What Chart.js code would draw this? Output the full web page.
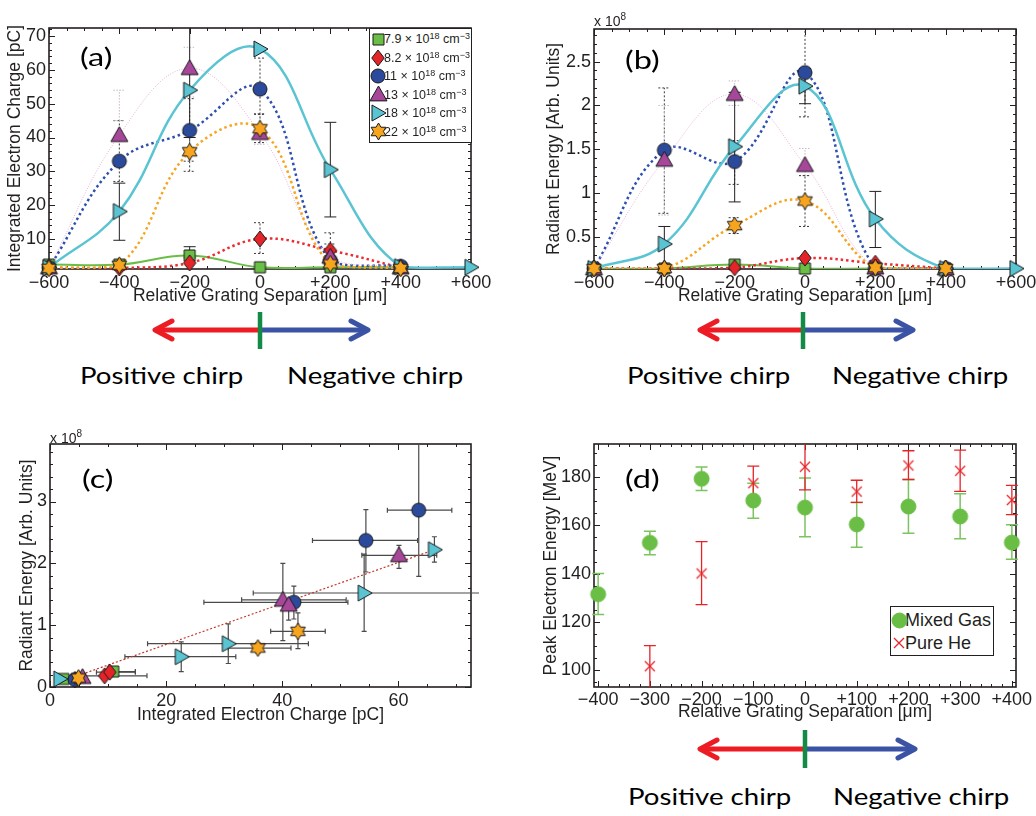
<!DOCTYPE html>
<html>
<head>
<meta charset="utf-8">
<title>Grating separation scans</title>
<script src="https://cdn.jsdelivr.net/npm/chart.js@4.4.1/dist/chart.umd.min.js"></script>
<style>
  body { margin: 0; background: #fff; }
  #page { position: relative; width: 1036px; height: 816px; overflow: hidden; background: #fff;
          font-family: "Liberation Sans", Arial, sans-serif; color: #231f20; }
  #page canvas.chart { position: absolute; }
  .panel-label { position: absolute; font-family: Lato, "Open Sans", sans-serif; font-weight: 400; font-size: 25px; line-height: 1;
                 transform: scaleX(1.3); transform-origin: 0 0; color: #000; }
  .chirp { position: absolute; font-family: Lato, "Open Sans", sans-serif; font-weight: 400; font-size: 24px; line-height: 1;
           white-space: nowrap; transform: scaleX(1.15); transform-origin: 0 0; color: #000; }
  .mult { position: absolute; font-size: 14px; line-height: 1; white-space: nowrap; }
  .mult sup { font-size: 10px; line-height: 0; vertical-align: 6px; }
  .legend { position: absolute; border: 1px solid #231f20; background: #fff; box-sizing: border-box; }
  .legend .row { position: absolute; left: 0; right: 0; }
  .legend .row canvas { position: absolute; }
  .legend .row span { position: absolute; white-space: nowrap; }
  .legend sup { font-size: 9px; line-height: 0; vertical-align: 4px; }
  #arrows { position: absolute; left: 0; top: 0; pointer-events: none; }
</style>
</head>
<body>
<div id="page">
  <canvas class="chart" id="chartA" width="520" height="310" style="left:0;top:0"></canvas>
  <canvas class="chart" id="chartB" width="520" height="310" style="left:520px;top:0"></canvas>
  <canvas class="chart" id="chartC" width="520" height="310" style="left:0;top:420px"></canvas>
  <canvas class="chart" id="chartD" width="520" height="310" style="left:520px;top:420px"></canvas>

  <div class="panel-label" style="left:80px;top:44px">(a)</div>
  <div class="panel-label" style="left:625px;top:47px">(b)</div>
  <div class="panel-label" style="left:82px;top:466px">(c)</div>
  <div class="panel-label" style="left:625px;top:466px">(d)</div>

  <div class="mult" style="left:594px;top:14px">x 10<sup>8</sup></div>
  <div class="mult" style="left:50px;top:431px">x 10<sup>8</sup></div>

  <div class="legend" id="legendA" style="left:369px;top:28px;width:103px;height:115px"></div>
  <div class="legend" id="legendD" style="left:890px;top:606px;width:104px;height:50px"></div>

  <div class="chirp" style="left:80px;top:363px">Positive chirp</div>
  <div class="chirp" style="left:287px;top:363px">Negative chirp</div>
  <div class="chirp" style="left:627px;top:363px">Positive chirp</div>
  <div class="chirp" style="left:832px;top:363px">Negative chirp</div>
  <div class="chirp" style="left:628px;top:784px">Positive chirp</div>
  <div class="chirp" style="left:833px;top:784px">Negative chirp</div>

  <svg id="arrows" width="1036" height="816"></svg>
</div>

<script>
// ---------- data ----------
const gratingSep = [-600, -400, -200, 0, 200, 400];
const gratingSepCyan = [-600, -400, -200, 0, 200, 400, 600];
const densities = ['7.9', '8.2', '11', '13', '18', '22'];

// (a) integrated electron charge [pC]
const chargeGreen   = [2.4, 2.4, 5.1, 1.6, 1.6, 1.6];
const chargeRed     = [1.5, 1.4, 2.9, 10.0, 6.6, 1.5];
const chargeBlue    = [1.5, 33.0, 42.1, 54.3, 3.6, 1.9];
const chargeMagenta = [1.5, 40.7, 60.5, 41.3, 4.7, 1.5];
const chargeCyan    = [1.5, 18.1, 54.0, 66.2, 30.5, 1.8, 1.6];
const chargeOrange  = [1.3, 2.2, 35.8, 42.6, 2.6, 1.3];

const chargeGreenErr   = [null, null, [4.4, 7.7], null, null, null];
const chargeRedErr     = [null, null, null, [5.7, 14.8], [5.0, 8.5], null];
const chargeBlueErr    = [null, [27, 45], [33, 51.5], [46.8, 63.5], [0.5, 11.8], null];
const chargeMagentaErr = [null, [45, 54], [52, 66.7], [38, 47], null, null];
const chargeCyanErr    = [null, [9.6, 26.5], [40, 80], null, [16.5, 44.5], null, null];
const chargeOrangeErr  = [null, null, [30, 42], [38.5, 47], null, null];

// (b) radiant energy [x 1e8 arb. units]
const energyGreen   = [0.14, 0.14, 0.185, 0.14, 0.14, 0.14];
const energyRed     = [0.14, 0.14, 0.15, 0.26, 0.20, 0.14];
const energyBlue    = [0.14, 1.49, 1.36, 2.375, 0.14, 0.14];
const energyMagenta = [0.14, 1.38, 2.13, 1.32, 0.15, 0.14];
const energyCyan    = [0.14, 0.42, 1.53, 2.22, 0.705, 0.14, 0.14];
const energyOrange  = [0.14, 0.14, 0.63, 0.91, 0.15, 0.14];

const energyGreenErr   = [null, null, null, null, null, null];
const energyRedErr     = [null, null, null, null, null, null];
const energyBlueErr    = [null, [0.77, 2.2], [1.1, 1.6], [1.87, 3.0], null, null];
const energyMagentaErr = [null, [0.75, 2.0], [2.0, 2.28], [1.2, 1.51], null, null];
const energyCyanErr    = [null, [0.14, 0.62], [0.9, 2.15], [2.02, 2.42], [0.38, 1.02], null, null];
const energyOrangeErr  = [null, null, [0.54, 0.72], [0.62, 1.2], null, null];

// (c) radiant energy vs charge
const scatGreenX = [2.3, 10.9];         const scatGreenY = [0.13, 0.25];
const scatGreenXErr = [null, [9.5, 14.7]];
const scatGreenYErr = [null, null];
const scatRedX = [4.3, 9.4, 10.3];      const scatRedY = [0.12, 0.18, 0.24];
const scatRedXErr = [null, [6.0, 16.7], [8.0, 14.7]];
const scatRedYErr = [null, null, null];
const scatBlueX = [4.3, 42.0, 54.4, 63.5]; const scatBlueY = [0.12, 1.37, 2.37, 2.86];
const scatBlueXErr = [null, [26.5, 51.3], [45.2, 63.3], [58.1, 69.2]];
const scatBlueYErr = [null, [1.1, 1.63], [1.86, 2.87], [1.79, 4.2]];
const scatMagentaX = [5.6, 40.1, 41.1, 60.1]; const scatMagentaY = [0.16, 1.41, 1.33, 2.13];
const scatMagentaXErr = [null, [33.0, 51.0], null, [53.7, 66.6]];
const scatMagentaYErr = [null, [0.75, 2.0], [1.08, 1.33], [1.92, 2.29]];
const scatCyanX = [1.7, 22.6, 30.7, 54.1, 66.2]; const scatCyanY = [0.13, 0.49, 0.70, 1.52, 2.22];
const scatCyanXErr = [null, [12.9, 32.0], [16.8, 44.5], [35.0, 80.0], null];
const scatCyanYErr = [null, [0.25, 0.73], [0.38, 1.02], [0.9, 2.15], [2.02, 2.43]];
const scatOrangeX = [4.9, 35.8, 42.7];  const scatOrangeY = [0.145, 0.63, 0.90];
const scatOrangeXErr = [null, [30.7, 41.5], [38.0, 47.4]];
const scatOrangeYErr = [null, [0.55, 0.72], [0.62, 1.2]];
const fitCharge = [2.9, 66.2];
const fitEnergy = [0.12, 2.22];

// (d) peak electron energy [MeV]
const sepD = [-400, -300, -200, -100, 0, 100, 200, 300, 400];
const mixedGas = [131.5, 152.8, 179.3, 170.3, 167.4, 160.4, 167.8, 163.7, 152.9];
const mixedGasErr = [[123.1, 140.1], [147.8, 157.6], [174.5, 184.2], [163.0, 177.5], [155.3, 179.6],
                     [151.0, 169.5], [156.7, 179.0], [154.5, 173.1], [146.0, 160.3]];
const pureHeSep = [-300, -200, -100, 0, 100, 200, 300, 400];
const pureHe = [101.7, 140.1, 177.5, 184.3, 174.0, 184.8, 182.6, 170.5];
const pureHeErr = [[90, 110.2], [127.2, 153.3], [170.5, 184.5], [174.7, 196], [169.5, 178.7],
                   [179.0, 190.9], [174.1, 191.2], [164.5, 176.6]];

// tick labels
const sepTicks = [-600, -400, -200, 0, 200, 400, 600];
const chargeTicks = [10, 20, 30, 40, 50, 60, 70];
const energyTicks = [0.5, 1, 1.5, 2, 2.5];
const scatChargeTicks = [0, 20, 40, 60];
const scatEnergyTicks = [0, 1, 2, 3];
const sepTicksD = [-400, -300, -200, -100, 0, 100, 200, 300, 400];
const peakTicks = [100, 120, 140, 160, 180];

// ---------- styles ----------
const ink = '#231f20';
const tickFont = {family: "'Liberation Sans', Arial, sans-serif", size: 18};
const titleFont = {family: "'Liberation Sans', Arial, sans-serif", size: 17.5};
const seriesShape = ['square', 'diamond', 'circle', 'triUp', 'triRight', 'hexagram'];
const seriesSize = [11, 16, 14, 17, 16, 17];
const seriesFill = ['#6abd45', '#e52429', '#2c4a9c', '#a6479a', '#5ac4d2', '#f7a51f'];
const seriesLine = ['#6abd45', '#ee2b30', '#2c4fb0', '#e6b0da', '#5ac4d2', '#f7a51f'];
const seriesDash = [[], [2.5, 3], [2.5, 3], [1, 1.5], [], [2.5, 3]];
const seriesWidth = [2, 2.5, 2.5, 1, 2.5, 2.5];
const errInk = [ink, '#3a3a3a', '#3a3a3a', '#c9b6c5', ink, '#3a3a3a'];
const errDash = [[], [2, 2], [2, 2], [1.5, 1.5], [], [2, 2]];

function makeMarker(shape, fill, stroke, size) {
  const s = Math.ceil(size) + 4;
  const c = document.createElement('canvas');
  c.width = s; c.height = s;
  const g = c.getContext('2d');
  const m = s / 2, r = size / 2;
  g.beginPath();
  if (shape === 'circle') g.arc(m, m, r, 0, 2 * Math.PI);
  else if (shape === 'square') g.rect(m - r, m - r, size, size);
  else if (shape === 'diamond') { g.moveTo(m, m - r); g.lineTo(m + r * 0.78, m); g.lineTo(m, m + r); g.lineTo(m - r * 0.78, m); g.closePath(); }
  else if (shape === 'triUp') { g.moveTo(m, m - r); g.lineTo(m + r, m + r * 0.75); g.lineTo(m - r, m + r * 0.75); g.closePath(); }
  else if (shape === 'triRight') { g.moveTo(m + r, m); g.lineTo(m - r * 0.75, m - r); g.lineTo(m - r * 0.75, m + r); g.closePath(); }
  else if (shape === 'hexagram') {
    for (let k = 0; k < 12; k++) {
      const ang = -Math.PI / 2 + k * Math.PI / 6;
      const rr = k % 2 ? r * 0.58 : r;
      const px = m + rr * Math.cos(ang), py = m + rr * Math.sin(ang);
      if (k) g.lineTo(px, py); else g.moveTo(px, py);
    }
    g.closePath();
  } else if (shape === 'cross') {
    g.moveTo(m - r, m - r); g.lineTo(m + r, m + r); g.moveTo(m + r, m - r); g.lineTo(m - r, m + r);
  }
  if (shape === 'cross') { g.strokeStyle = stroke; g.lineWidth = 1.3; g.stroke(); }
  else { g.fillStyle = fill; g.fill(); g.strokeStyle = stroke; g.lineWidth = 1; g.stroke(); }
  return c;
}

const markers = seriesShape.map((sh, k) => makeMarker(sh, seriesFill[k], '#1a1a1a', seriesSize[k]));
const mixedMarker = makeMarker('circle', '#6abd45', '#6abd45', 15);
const heMarker = makeMarker('cross', null, '#e52429', 10);

function fmtSigned(v) { return v > 0 ? '+' + v : (v < 0 ? '\u2212' + Math.abs(v) : '0'); }
function fmtPlain(v) { return String(v); }
function fixedTicks(list) { return scale => { scale.ticks = list.map(v => ({value: v})); }; }

// box + inward MATLAB-style ticks
const framePlugin = {
  id: 'frame',
  beforeDatasetsDraw(chart, args, opts) {
    const {ctx, chartArea: a} = chart;
    const sx = chart.scales.x, sy = chart.scales.y;
    ctx.save();
    ctx.strokeStyle = ink;
    ctx.lineWidth = 1;
    ctx.beginPath();
    const xTick = (v, len) => {
      const p = Math.round(sx.getPixelForValue(v)) + 0.5;
      ctx.moveTo(p, a.bottom); ctx.lineTo(p, a.bottom - len);
      ctx.moveTo(p, a.top); ctx.lineTo(p, a.top + len);
    };
    const yTick = (v, len) => {
      const p = Math.round(sy.getPixelForValue(v)) + 0.5;
      ctx.moveTo(a.left, p); ctx.lineTo(a.left + len, p);
      ctx.moveTo(a.right, p); ctx.lineTo(a.right - len, p);
    };
    const minor = (scale, step, fn) => {
      const start = Math.ceil(scale.min / step - 1e-9);
      for (let i = start; i * step <= scale.max + 1e-9; i++) fn(i * step, 3);
    };
    minor(sx, opts.minorX, xTick);
    minor(sy, opts.minorY, yTick);
    sx.ticks.forEach(t => xTick(t.value, 6));
    sy.ticks.forEach(t => yTick(t.value, 6));
    ctx.stroke();
    ctx.lineWidth = 1.6;
    ctx.strokeRect(a.left, a.top, a.right - a.left, a.bottom - a.top);
    ctx.restore();
  }
};

const errorBarPlugin = {
  id: 'errorBars',
  beforeDatasetsDraw(chart) {
    const {ctx, chartArea: a} = chart;
    const sx = chart.scales.x, sy = chart.scales.y;
    ctx.save();
    ctx.beginPath();
    ctx.rect(a.left - 8, a.top, a.right - a.left + 16, a.bottom - a.top);
    ctx.clip();
    chart.data.datasets.forEach(ds => {
      if (!ds.errY && !ds.errX) return;
      ctx.strokeStyle = ds.errColor;
      ctx.lineWidth = ds.errWidth || 1;
      ctx.setLineDash(ds.errDash || []);
      const cap = ds.errCap || 5;
      ds.data.forEach((p, i) => {
        const px = sx.getPixelForValue(p.x), py = sy.getPixelForValue(p.y);
        ctx.beginPath();
        const ey = ds.errY && ds.errY[i];
        if (ey) {
          const t = sy.getPixelForValue(ey[1]), b = sy.getPixelForValue(ey[0]);
          ctx.moveTo(px, b); ctx.lineTo(px, t);
          ctx.moveTo(px - cap, t); ctx.lineTo(px + cap, t);
          ctx.moveTo(px - cap, b); ctx.lineTo(px + cap, b);
        }
        const ex = ds.errX && ds.errX[i];
        if (ex) {
          const l = sx.getPixelForValue(ex[0]), r = sx.getPixelForValue(ex[1]);
          ctx.moveTo(l, py); ctx.lineTo(r, py);
          ctx.moveTo(l, py - cap); ctx.lineTo(l, py + cap);
          ctx.moveTo(r, py - cap); ctx.lineTo(r, py + cap);
        }
        ctx.stroke();
      });
    });
    ctx.restore();
  }
};

function buildChart(id, datasets, c) {
  return new Chart(document.getElementById(id), {
    type: 'scatter',
    data: {datasets},
    options: {
      responsive: false,
      animation: false,
      devicePixelRatio: 1,
      events: [],
      layout: {padding: c.pad},
      plugins: {legend: {display: false}, tooltip: {enabled: false}, frame: {minorX: c.minorX, minorY: c.minorY}},
      scales: {
        x: {
          type: 'linear', min: c.xMin, max: c.xMax,
          afterBuildTicks: fixedTicks(c.xTicks),
          afterFit: s => { s.height = c.xH; },
          grid: {display: false, drawTicks: false}, border: {display: false},
          ticks: {callback: c.xFmt, font: tickFont, color: ink, padding: c.xTickPad, maxRotation: 0, autoSkip: false},
          title: {display: true, text: c.xTitle, font: titleFont, color: ink, padding: 0}
        },
        y: {
          type: 'linear', min: c.yMin, max: c.yMax,
          afterBuildTicks: fixedTicks(c.yTicks),
          afterFit: s => { s.width = c.yW; },
          grid: {display: false, drawTicks: false}, border: {display: false},
          ticks: {callback: fmtPlain, font: tickFont, color: ink, padding: 3, autoSkip: false},
          title: {display: true, text: c.yTitle, font: titleFont, color: ink, padding: {top: c.yTitlePad, bottom: 0}}
        }
      }
    },
    plugins: [framePlugin, errorBarPlugin]
  });
}

function gratingDatasets(xLists, yLists, errLists) {
  const out = [];
  yLists.forEach((ys, k) => {
    const pts = xLists[k].map((x, i) => ({x, y: ys[i]}));
    out.push({data: pts, order: 5 - k, showLine: false, pointStyle: markers[k], pointRadius: 8, clip: false,
              errY: errLists[k], errColor: errInk[k], errDash: errDash[k], errCap: 6});
    out.push({data: pts, order: 20 - k, showLine: true, tension: 0.4, pointRadius: 0,
              borderColor: seriesLine[k], borderWidth: seriesWidth[k], borderDash: seriesDash[k]});
  });
  return out;
}

const sepLists = [gratingSep, gratingSep, gratingSep, gratingSep, gratingSepCyan, gratingSep];

buildChart('chartA', gratingDatasets(sepLists,
  [chargeGreen, chargeRed, chargeBlue, chargeMagenta, chargeCyan, chargeOrange],
  [chargeGreenErr, chargeRedErr, chargeBlueErr, chargeMagentaErr, chargeCyanErr, chargeOrangeErr]), {
  pad: {left: 0, top: 28, right: 49, bottom: 3}, xH: 38, yW: 49, yTitlePad: 5, xTickPad: 3,
  xMin: -600, xMax: 600, yMin: 1.1, yMax: 72.4, xTicks: sepTicks, yTicks: chargeTicks, xFmt: fmtSigned,
  minorX: 50, minorY: 2,
  xTitle: 'Relative Grating Separation [\u03bcm]', yTitle: 'Integrated Electron Charge [pC]'
});

buildChart('chartB', gratingDatasets(sepLists,
  [energyGreen, energyRed, energyBlue, energyMagenta, energyCyan, energyOrange],
  [energyGreenErr, energyRedErr, energyBlueErr, energyMagentaErr, energyCyanErr, energyOrangeErr]), {
  pad: {left: 0, top: 29, right: 24, bottom: 3}, xH: 38, yW: 74, yTitlePad: 24, xTickPad: 3,
  xMin: -600, xMax: 600, yMin: 0.135, yMax: 2.872, xTicks: sepTicks, yTicks: energyTicks, xFmt: fmtSigned,
  minorX: 50, minorY: 0.1,
  xTitle: 'Relative Grating Separation [\u03bcm]', yTitle: 'Radiant Energy [Arb. Units]'
});

const scatX = [scatGreenX, scatRedX, scatBlueX, scatMagentaX, scatCyanX, scatOrangeX];
const scatY = [scatGreenY, scatRedY, scatBlueY, scatMagentaY, scatCyanY, scatOrangeY];
const scatXErr = [scatGreenXErr, scatRedXErr, scatBlueXErr, scatMagentaXErr, scatCyanXErr, scatOrangeXErr];
const scatYErr = [scatGreenYErr, scatRedYErr, scatBlueYErr, scatMagentaYErr, scatCyanYErr, scatOrangeYErr];
const scatterSets = scatX.map((xs, k) => ({
  data: xs.map((x, i) => ({x, y: scatY[k][i]})), order: 5 - k, showLine: false,
  pointStyle: markers[k], pointRadius: 8, clip: false,
  errX: scatXErr[k], errY: scatYErr[k], errColor: '#4a4a4a', errWidth: 1.2, errCap: 2.5
}));
scatterSets.push({
  data: fitCharge.map((x, i) => ({x, y: fitEnergy[i]})), order: 10, showLine: true, tension: 0, pointRadius: 0,
  borderColor: '#c0392b', borderWidth: 1.2, borderDash: [2, 2]
});

buildChart('chartC', scatterSets, {
  pad: {left: 0, top: 24, right: 49, bottom: 4}, xH: 39, yW: 50, yTitlePad: 17, xTickPad: 3,
  xMin: 0, xMax: 72.5, yMin: 0, yMax: 3.93, xTicks: scatChargeTicks, yTicks: scatEnergyTicks, xFmt: fmtPlain,
  minorX: 5, minorY: 0.2,
  xTitle: 'Integrated Electron Charge [pC]', yTitle: 'Radiant Energy [Arb. Units]'
});

buildChart('chartD', [
  {data: sepD.map((x, i) => ({x, y: mixedGas[i]})), order: 1, showLine: false, pointStyle: mixedMarker,
   pointRadius: 8, clip: false, errY: mixedGasErr, errColor: '#7cc460', errWidth: 1.5, errCap: 6},
  {data: pureHeSep.map((x, i) => ({x, y: pureHe[i]})), order: 0, showLine: false, pointStyle: heMarker,
   pointRadius: 8, clip: false, errY: pureHeErr, errColor: '#e52429', errWidth: 1.3, errCap: 6}
], {
  pad: {left: 0, top: 24, right: 24, bottom: 7}, xH: 36, yW: 74, yTitlePad: 21, xTickPad: 2,
  xMin: -408, xMax: 408, yMin: 93.1, yMax: 193.7, xTicks: sepTicksD, yTicks: peakTicks, xFmt: fmtSigned,
  minorX: 20, minorY: 5,
  xTitle: 'Relative Grating Separation [\u03bcm]', yTitle: 'Peak Electron Energy [MeV]'
});

// ---------- legends ----------
function legendRow(box, marker, markerX, centerY, textX, html, fontSize) {
  const row = document.createElement('div');
  row.className = 'row';
  row.style.top = (centerY - 10) + 'px';
  row.style.height = '20px';
  const mc = document.createElement('canvas');
  mc.width = marker.width; mc.height = marker.height;
  mc.getContext('2d').drawImage(marker, 0, 0);
  mc.style.left = (markerX - marker.width / 2) + 'px';
  mc.style.top = (10 - marker.height / 2) + 'px';
  const t = document.createElement('span');
  t.style.left = textX + 'px';
  t.style.top = '0';
  t.style.lineHeight = '20px';
  t.style.fontSize = fontSize + 'px';
  t.innerHTML = html;
  row.appendChild(t);
  row.appendChild(mc);
  box.appendChild(row);
}

const legendA = document.getElementById('legendA');
densities.forEach((d, k) => {
  legendRow(legendA, markers[k], 8, 10 + k * 18.5, 14, d + ' \u00d7 10<sup>18</sup> cm<sup>\u22123</sup>', 12.5);
});
const legendD = document.getElementById('legendD');
legendRow(legendD, mixedMarker, 8, 13, 14, 'Mixed Gas', 18);
legendRow(legendD, heMarker, 8, 36, 14, 'Pure He', 18);

// ---------- chirp arrows ----------
const arrowSpots = [
  {mid: 260, y: 330, left: 155, right: 368, top: 312, bottom: 349},
  {mid: 803, y: 330, left: 700, right: 913, top: 312, bottom: 349},
  {mid: 805, y: 749, left: 700, right: 915, top: 730, bottom: 768}
];
let svg = '';
arrowSpots.forEach(a => {
  svg += `<line x1="${a.mid}" y1="${a.y}" x2="${a.left + 2}" y2="${a.y}" stroke="#ed1c24" stroke-width="5"/>`;
  svg += `<polyline points="${a.left + 17},${a.y - 9} ${a.left},${a.y} ${a.left + 17},${a.y + 9}" fill="none" stroke="#ed1c24" stroke-width="5" stroke-linecap="round" stroke-linejoin="round"/>`;
  svg += `<line x1="${a.mid}" y1="${a.y}" x2="${a.right - 2}" y2="${a.y}" stroke="#3a53a4" stroke-width="5"/>`;
  svg += `<polyline points="${a.right - 17},${a.y - 9} ${a.right},${a.y} ${a.right - 17},${a.y + 9}" fill="none" stroke="#3a53a4" stroke-width="5" stroke-linecap="round" stroke-linejoin="round"/>`;
  svg += `<line x1="${a.mid}" y1="${a.top}" x2="${a.mid}" y2="${a.bottom}" stroke="#138a45" stroke-width="4.5"/>`;
});
document.getElementById('arrows').innerHTML = svg;
</script>
</body>
</html>
